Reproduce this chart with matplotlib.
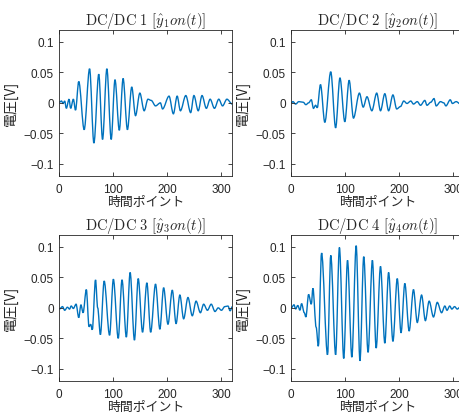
import matplotlib
matplotlib.use("Agg")
import matplotlib.pyplot as plt
from matplotlib.ticker import FixedLocator, FixedFormatter
from matplotlib.path import Path
from matplotlib.patches import PathPatch

plt.rcParams['mathtext.fontset'] = 'cm'

# ---- data: extrema (time point, voltage) ----
t1 = [0, 4, 7, 10, 13, 18, 21, 26, 30, 36, 46, 56, 64, 73, 80, 88, 96, 103, 111, 118, 126,
      134, 141, 149, 157, 164, 170, 178, 187, 191, 203, 211, 218, 224, 234, 243, 249, 257,
      264, 272, 279, 287, 295, 302, 310, 320]
v1 = [0.001, 0.003, -0.001, 0.003, -0.009, 0.006, -0.009, 0.006, -0.012, 0.035, -0.044,
      0.056, -0.066, 0.047, -0.060, 0.056, -0.060, 0.038, -0.045, 0.040, -0.044,
      0.026, -0.021, 0.016, -0.013, 0.006, 0.004, -0.005, 0.000, -0.010, 0.011, -0.018,
      0.011, -0.013, 0.012, -0.016, 0.012, -0.013, 0.012, -0.009, 0.006, -0.009, 0.006,
      -0.005, 0.006, -0.002]

t2 = [0, 3, 8, 14, 22, 27, 32, 37, 41, 45, 48, 54, 62, 73, 82, 90, 99, 107, 115, 126,
      133, 140, 149, 158, 165, 173, 180, 188, 195, 202, 208, 214, 221, 226, 233, 239, 247,
      251, 258, 264, 268, 276, 282, 286, 294, 298, 305, 313, 320]
v2 = [0.000, 0.002, -0.002, 0.002, 0.001, -0.003, 0.000, 0.005, -0.009, -0.004, -0.008,
      0.030, -0.032, 0.051, -0.041, 0.041, -0.031, 0.037, -0.025, 0.016,
      -0.007, 0.010, -0.013, 0.016, -0.013, 0.015, -0.013, 0.013, -0.010, -0.006, 0.003,
      -0.001, 0.003, -0.002, 0.002, -0.004, 0.004, -0.004, 0.001, 0.007, -0.005, 0.002,
      0.000, -0.005, 0.005, -0.001, 0.002, -0.002, 0.000]

t3 = [0, 6, 10, 15, 19, 22, 26, 31, 36, 40, 44, 50, 55, 58, 61, 67, 71, 76, 83, 93, 100,
      109, 116, 124, 131, 139, 146, 154, 162, 169, 178, 186, 193, 201, 209, 216, 223, 230,
      238, 246, 253, 261, 267, 274, 281, 288, 294, 300, 306, 312, 316, 320]
v3 = [-0.002, 0.002, -0.004, 0.001, -0.002, 0.003, -0.001, 0.006, -0.016, 0.005, -0.008,
      0.030, -0.031, -0.027, -0.036, 0.046, 0.000, -0.044, 0.044, -0.045, 0.047,
      -0.050, 0.046, -0.048, 0.058, -0.053, 0.048, -0.040, 0.041, -0.040, 0.039, -0.035,
      0.033, -0.027, 0.029, -0.026, 0.021, -0.018, 0.017, -0.013, 0.011, -0.008, 0.006,
      -0.004, 0.006, -0.006, 0.000, -0.004, 0.002, 0.003, -0.005, 0.002]

t4 = [0, 5, 8, 12, 16, 19, 24, 27, 32, 37, 40, 46, 50, 56, 67, 73, 82, 89, 97, 104, 112,
      120, 127, 134, 142, 150, 157, 165, 173, 180, 188, 196, 203, 210, 218, 226, 233, 241,
      248, 255, 263, 270, 278, 284, 288, 293, 297, 302, 307, 312, 316, 320]
v4 = [0.000, 0.005, -0.002, 0.004, -0.004, 0.007, -0.008, -0.015, 0.022, 0.006, 0.032,
      -0.032, -0.063, 0.090, -0.077, 0.086, -0.077, 0.099, -0.083, 0.078, -0.081,
      0.102, -0.087, 0.084, -0.073, 0.078, -0.066, 0.068, -0.058, 0.058, -0.055, 0.048,
      -0.041, 0.040, -0.038, 0.030, -0.024, 0.021, -0.021, 0.011, -0.015, 0.009, -0.008,
      0.003, -0.004, 0.003, -0.002, 0.002, -0.002, 0.001, -0.002, 0.000]

series_t = [t1, t2, t3, t4]
series_v = [v1, v2, v3, v4]
titles = [r"$\mathrm{DC/DC\ 1}\ [\hat{y}_1on(t)]$",
          r"$\mathrm{DC/DC\ 2}\ [\hat{y}_2on(t)]$",
          r"$\mathrm{DC/DC\ 3}\ [\hat{y}_3on(t)]$",
          r"$\mathrm{DC/DC\ 4}\ [\hat{y}_4on(t)]$"]
xticks = [0, 100, 200, 300]
xticklabels = ["0", "100", "200", "300"]
yticks = [-0.1, -0.05, 0, 0.05, 0.1]
yticklabels = ["\u22120.1", "\u22120.05", "0", "0.05", "0.1"]
xlabel = "時間ポイント"
ylabel = "電圧[V]"


def smooth_path(xs, ys):
    """Smooth curve through the read extrema (horizontal tangents at each point)."""
    verts = [(xs[0], ys[0])]
    codes = [Path.MOVETO]
    for k in range(len(xs) - 1):
        dx = xs[k + 1] - xs[k]
        verts += [(xs[k] + dx / 3, ys[k]), (xs[k + 1] - dx / 3, ys[k + 1]), (xs[k + 1], ys[k + 1])]
        codes += [Path.CURVE4] * 3
    return Path(verts, codes)


W, H = 459, 414
fig = plt.figure(figsize=(W / 100, H / 100), dpi=100)

axw, axh = 173 / W, 146.3 / H
lefts = [59.3 / W, 291.3 / W]
bottoms = [1 - 177 / H, 1 - 382 / H]
pos = [(lefts[0], bottoms[0]), (lefts[1], bottoms[0]), (lefts[0], bottoms[1]), (lefts[1], bottoms[1])]

gray = '#262626'
line_color = '#0072BD'
tick_family = ['Liberation Sans', 'DejaVu Sans']
cjk = ['Noto Sans CJK JP', 'DejaVu Sans']

for i in range(4):
    ax = fig.add_axes([pos[i][0], pos[i][1], axw, axh])
    patch = PathPatch(smooth_path(series_t[i], series_v[i]), fill=False,
                      edgecolor=line_color, lw=1.0, transform=ax.transData)
    ax.add_patch(patch)
    ax.set_xlim(0, 320)
    ax.set_ylim(-0.12, 0.12)
    ax.xaxis.set_major_locator(FixedLocator(xticks))
    ax.xaxis.set_major_formatter(FixedFormatter(xticklabels))
    ax.yaxis.set_major_locator(FixedLocator(yticks))
    ax.yaxis.set_major_formatter(FixedFormatter(yticklabels))
    ax.tick_params(direction='in', length=3, width=0.6, colors=gray,
                   top=True, right=True, pad=4)
    ax.tick_params(axis='x', pad=5)
    for lab in ax.get_xticklabels() + ax.get_yticklabels():
        lab.set_fontfamily(tick_family)
        lab.set_fontsize(8.5)
        lab.set_color(gray)
    for sp in ax.spines.values():
        sp.set_color(gray)
        sp.set_linewidth(0.6)
    ax.set_title(titles[i], fontsize=10.5, color=gray, pad=4)
    ax.set_xlabel(xlabel, family=cjk, fontsize=9.3, color=gray, labelpad=0)
    ax.set_ylabel(ylabel, family=cjk, fontsize=10, color=gray, labelpad=4.5)

fig.savefig("out.png", dpi=100)
